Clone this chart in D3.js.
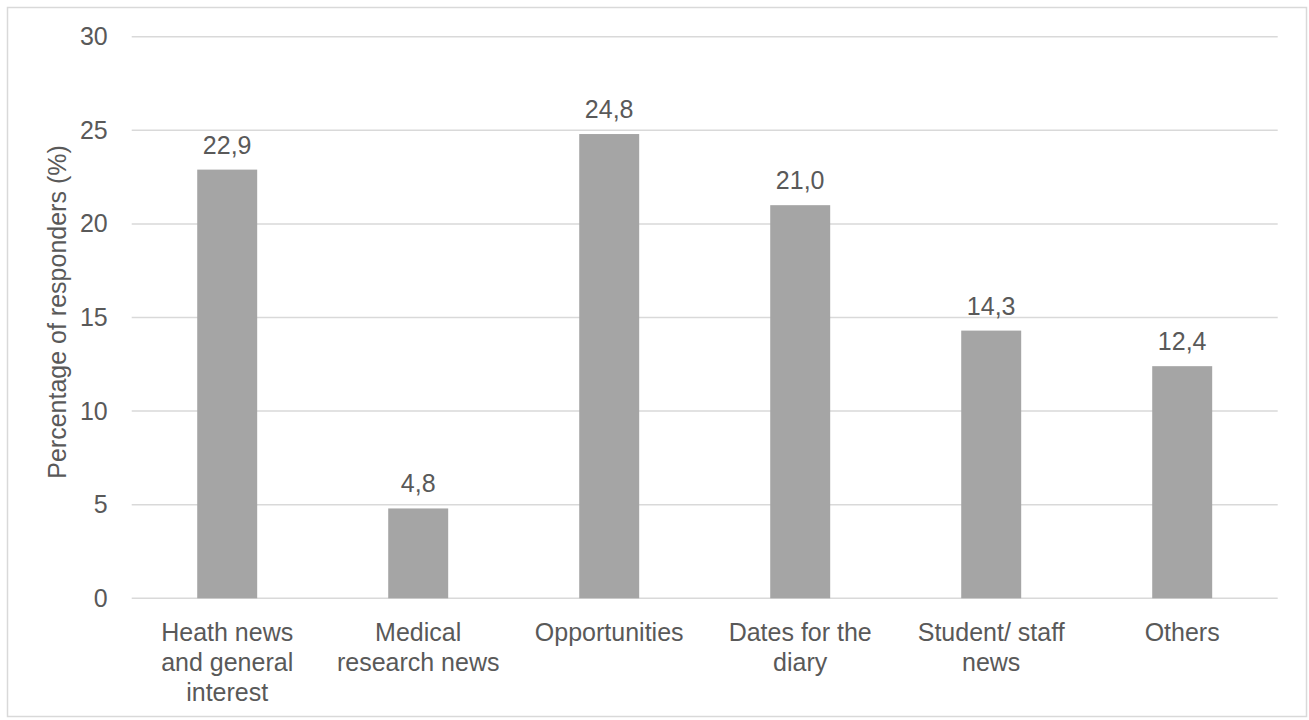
<!DOCTYPE html>
<html>
<head>
<meta charset="utf-8">
<script src="https://cdn.jsdelivr.net/npm/d3@7"></script>
<style>
  body { margin: 0; background: #fff; }
  svg text { font-family: "Liberation Sans", Arial, sans-serif; fill: #595959; }
</style>
</head>
<body>
<div id="chart"></div>
<script>
// data
const categories = ["Heath news and general interest", "Medical research news", "Opportunities",
  "Dates for the diary", "Student/ staff news", "Others"];
const values = [22.9, 4.8, 24.8, 21.0, 14.3, 12.4];
const yTicks = [0, 5, 10, 15, 20, 25, 30];
const yLabel = "Percentage of responders (%)";

// dimensions
const width = 1309, height = 720;
const margin = {top: 36.7, right: 31.3, bottom: 121.7, left: 131.7};
const fontSize = 25;

const svg = d3.select("#chart").append("svg")
    .attr("width", width)
    .attr("height", height);

// outer frame
svg.append("rect")
    .attr("x", 7.5).attr("y", 7.5)
    .attr("width", 1299).attr("height", 709)
    .attr("fill", "none")
    .attr("stroke", "#d9d9d9")
    .attr("stroke-width", 1.5);

const x = d3.scaleBand()
    .domain(categories)
    .range([margin.left, width - margin.right])
    .paddingInner(0.686)
    .paddingOuter(0.343);

const y = d3.scaleLinear()
    .domain([0, 30])
    .range([height - margin.bottom, margin.top]);

// gridlines
svg.append("g")
    .selectAll("line")
    .data(yTicks)
    .join("line")
    .attr("x1", margin.left)
    .attr("x2", width - margin.right)
    .attr("y1", d => y(d))
    .attr("y2", d => y(d))
    .attr("stroke", "#d9d9d9")
    .attr("stroke-width", 1.5);

// y axis labels
const yAxis = svg.append("g")
    .attr("transform", `translate(${margin.left - 24},0)`)
    .call(d3.axisLeft(y).tickValues(yTicks).tickSize(0).tickPadding(0));
yAxis.select(".domain").remove();
yAxis.selectAll("text")
    .attr("font-size", fontSize)
    .attr("font-family", null)
    .attr("fill", null);

// bars
svg.append("g")
    .selectAll("rect")
    .data(values)
    .join("rect")
    .attr("x", (d, i) => x(categories[i]))
    .attr("y", d => y(d))
    .attr("width", x.bandwidth())
    .attr("height", d => y(0) - y(d))
    .attr("fill", "#a5a5a5");

// value labels
svg.append("g")
    .selectAll("text")
    .data(values)
    .join("text")
    .attr("x", (d, i) => x(categories[i]) + x.bandwidth() / 2)
    .attr("y", d => y(d) - 16)
    .attr("text-anchor", "middle")
    .attr("font-size", fontSize)
    .text(d => d.toFixed(1).replace(".", ","));

// category labels, wrapped like excel does
const wrap = (text, maxWidth) => {
  text.each(function() {
    const t = d3.select(this);
    const words = t.text().split(" ");
    const cx = t.attr("x");
    t.text(null);
    let line = [];
    let tspan = t.append("tspan").attr("x", cx).attr("dy", 0);
    words.forEach(w => {
      line.push(w);
      tspan.text(line.join(" "));
      if (tspan.node().getComputedTextLength() > maxWidth && line.length > 1) {
        line.pop();
        tspan.text(line.join(" "));
        line = [w];
        tspan = t.append("tspan").attr("x", cx).attr("dy", 30).text(w);
      }
    });
  });
};

svg.append("g")
    .selectAll("text")
    .data(categories)
    .join("text")
    .attr("x", d => x(d) + x.bandwidth() / 2)
    .attr("y", y(0) + 43)
    .attr("text-anchor", "middle")
    .attr("font-size", fontSize)
    .text(d => d)
    .call(wrap, 170);

// y axis title
svg.append("text")
    .attr("transform", `translate(66,312) rotate(-90)`)
    .attr("text-anchor", "middle")
    .attr("font-size", fontSize)
    .text(yLabel);
</script>
</body>
</html>
